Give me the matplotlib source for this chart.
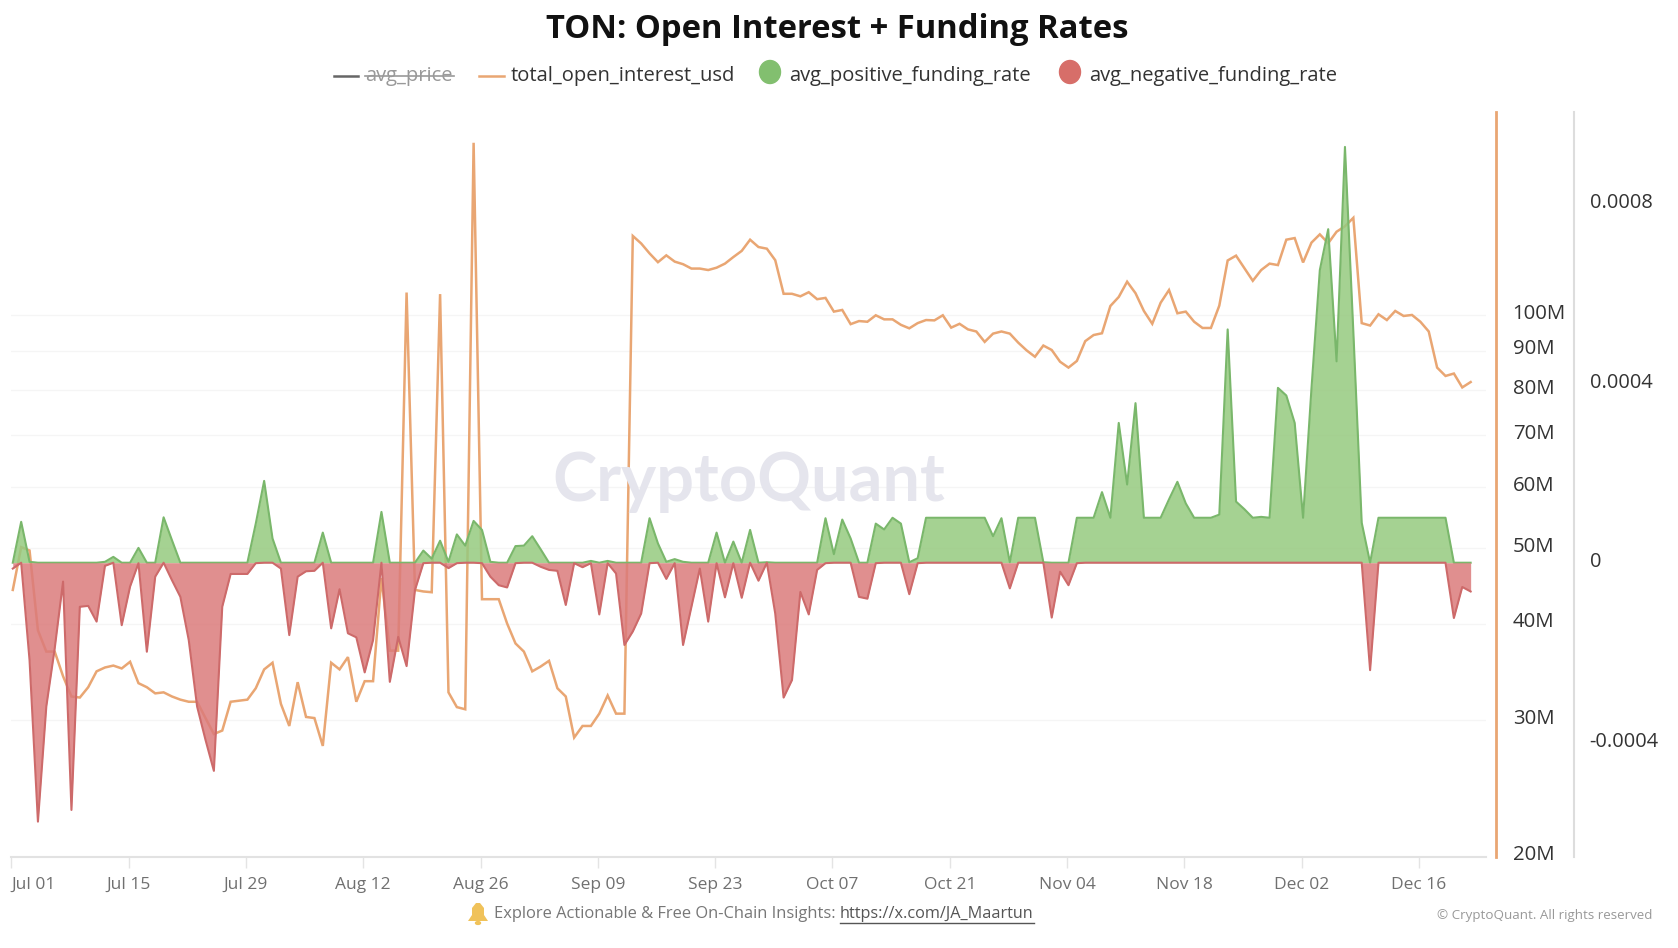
import matplotlib

matplotlib.use("Agg")
import matplotlib.pyplot as plt
import pandas as pd
from matplotlib.lines import Line2D
from matplotlib.patches import Circle, Ellipse, Polygon
from matplotlib.transforms import ScaledTranslation

WIDTH, HEIGHT = 1678, 948

plt.rcParams["font.family"] = ["Open Sans", "DejaVu Sans"]

# daily values, Jul 01 to Dec 22
open_interest_m = [
    44.2, 50.2, 49.7, 39.2, 36.8, 36.8, 34.2, 32.2, 32.1, 33.1,
    34.7, 35.1, 35.3, 35.0, 35.7, 33.5, 33.1, 32.5, 32.6, 32.2,
    31.9, 31.7, 31.7, 30.2, 28.8, 29.1, 31.7, 31.8, 31.9, 33.0,
    34.9, 35.6, 31.5, 29.5, 33.6, 30.3, 30.2, 27.8, 35.6, 34.9,
    36.2, 31.7, 33.7, 33.7, 45.8, 36.9, 36.9, 107, 44.2, 44.0,
    43.9, 106.5, 32.6, 31.2, 31.0, 167, 43.0, 43.0, 43.0, 40.0,
    37.7, 36.8, 34.7, 35.2, 35.8, 33.0, 32.2, 28.5, 29.5, 29.5,
    30.6, 32.3, 30.6, 30.6, 126.6, 123.8, 120.2, 117.1, 119.5, 117.3,
    116.4, 114.9, 114.9, 114.4, 115.2, 116.6, 118.9, 121.1, 125.2, 122.5,
    121.9, 117.8, 106.6, 106.6, 105.8, 107.1, 104.9, 105.3, 101.1, 101.6,
    97.4, 98.3, 98.1, 100, 98.8, 98.8, 97.2, 96.2, 97.7, 98.6,
    98.5, 100, 96.4, 97.5, 95.9, 95.3, 92.4, 94.7, 95.3, 94.7,
    92.2, 90.1, 88.4, 91.4, 90.2, 87.1, 85.6, 87.3, 92.6, 94.3,
    94.8, 102.8, 105.6, 110.5, 106.8, 101.3, 97.5, 103.8, 107.8, 100.6,
    101.1, 98.1, 96.3, 96.3, 102.9, 117.7, 119.4, 115, 110.8, 114.4,
    116.6, 116.1, 125.2, 125.8, 117, 124.1, 127.2, 123.9, 128.2, 130.3,
    133.6, 97.7, 97, 100.3, 98.6, 101.3, 99.8, 100.1, 98.1, 95.3,
    85.6, 83.5, 84.1, 80.7, 82,
]

# funding rates in millionths
positive_rate_e6 = [
    0, 91, 2, 0, 0, 0, 0, 0, 0, 0,
    0, 2, 13, 0, 0, 33, 0, 0, 101, 50,
    0, 0, 0, 0, 0, 0, 0, 0, 0, 87,
    182, 54, 0, 0, 0, 0, 0, 67, 0, 0,
    0, 0, 0, 0, 113, 0, 0, 0, 0, 27,
    9, 49, 2, 63, 38, 93, 73, 2, 0, 0,
    37, 38, 59, 30, 0, 0, 0, 0, 0, 4,
    0, 4, 0, 0, 0, 0, 99, 43, 2, 8,
    2, 0, 0, 0, 67, 0, 47, 0, 73, 0,
    1, 0, 0, 0, 0, 0, 0, 99, 19, 96,
    54, 0, 0, 87, 74, 100, 87, 1, 10, 100,
    100, 100, 100, 100, 100, 100, 100, 59, 99, 1,
    100, 100, 100, 1, 0, 0, 0, 100, 100, 100,
    157, 100, 311, 174, 355, 100, 100, 100, 141, 180,
    132, 100, 100, 100, 107, 519, 136, 119, 100, 102,
    100, 389, 372, 311, 100, 387, 651, 742, 448, 925,
    514, 89, 0, 100, 100, 100, 100, 100, 100, 100,
    100, 100, 0, 0, 0,
]

negative_rate_e6 = [
    -13, 0, -217, -576, -320, -191, -42, -550, -98, -96,
    -131, -7, 0, -139, -53, -1, -198, -31, 0, -39,
    -76, -172, -320, -394, -463, -98, -25, -25, -25, -1,
    0, 0, -13, -161, -31, -19, -18, 0, -146, -59,
    -157, -166, -244, -172, 0, -265, -165, -230, -61, -1,
    0, 0, -12, -1, 0, 0, -1, -31, -50, -55,
    -1, 0, 0, -9, -16, -18, -94, -1, -10, -1,
    -115, -1, -24, -183, -153, -113, -1, 0, -36, -1,
    -183, -98, -13, -131, -1, -77, -1, -78, 0, -40,
    0, -113, -300, -261, -65, -115, -16, -1, 0, 0,
    0, -76, -80, -1, 0, 0, 0, -70, -1, 0,
    0, 0, 0, 0, 0, 0, 0, 0, 0, -57,
    0, 0, 0, 0, -122, -20, -50, -1, 0, 0,
    0, 0, 0, 0, 0, 0, 0, 0, 0, 0,
    0, 0, 0, 0, 0, 0, 0, 0, 0, 0,
    0, 0, 0, 0, 0, 0, 0, 0, 0, 0,
    0, 0, -239, 0, 0, 0, 0, 0, 0, 0,
    0, 0, -123, -54, -64,
]

oi_ticks_m = [20, 30, 40, 50, 60, 70, 80, 90, 100]
rate_ticks = [-0.0004, 0, 0.0004, 0.0008]
rate_tick_labels = ["-0.0004", "0", "0.0004", "0.0008"]

ORANGE = "#e9a673"
GREEN_LINE = "#7ab76b"
GREEN_FILL = "#96ca7f"
RED_LINE = "#cd6a6a"
RED_FILL = "#db7b7b"
TEXT = "#333333"

day_start = pd.date_range("2024-07-01", periods=len(open_interest_m))
# points sit a little right of the day ticks in the reference
dates = day_start + pd.Timedelta(hours=4)
tick_dates = day_start[::14]
open_interest = [v * 1e6 for v in open_interest_m]
positive_rate = [v * 1e-6 for v in positive_rate_e6]
negative_rate = [v * 1e-6 for v in negative_rate_e6]


def fx(px):
    return px / WIDTH


def fy(px):
    return 1 - px / HEIGHT


fig = plt.figure(figsize=(WIDTH / 100, HEIGHT / 100), dpi=100)
ax = fig.add_axes([fx(11.4), fy(856.7), fx(1486 - 11.4), (856.7 - 112) / HEIGHT])
ax_rate = ax.twinx()

# open interest on the log axis
ax.set_yscale("log")
ax.plot(dates, open_interest, color=ORANGE, lw=1.8, zorder=3, solid_joinstyle="miter")
ax.set_ylim(20e6, 183e6)
ax.set_xlim(day_start[0], day_start[0] + pd.Timedelta(days=176))
ax.yaxis.tick_right()
ax.set_yticks([v * 1e6 for v in oi_ticks_m], [f"{v}M" for v in oi_ticks_m])
ax.minorticks_off()
ax.tick_params(axis="y", length=0, pad=12, labelsize=14.7, labelcolor=TEXT)
ax.grid(axis="y", color="#f5f5f5", lw=1)
ax.set_axisbelow(True)

ax.set_xticks(tick_dates, [d.strftime("%b %d") for d in tick_dates])
ax.tick_params(axis="x", length=8, width=1, color="#e4e4e4", pad=6.5, labelsize=12.5, labelcolor="#707070")
ax.get_xticklabels()[0].set_ha("left")

for side in ["top", "left"]:
    ax.spines[side].set_visible(False)
ax.spines["bottom"].set_color("#e2e2e2")
ax.spines["bottom"].set_linewidth(1.5)
ax.spines["right"].set_position(("outward", 7.2))
ax.spines["right"].set_color(ORANGE)
ax.spines["right"].set_linewidth(2)
# set_position rebuilds the ticks, so nudge the labels after it
for label in ax.get_yticklabels():
    label.set_transform(label.get_transform() + ScaledTranslation(0, 2.7 / 72, fig.dpi_scale_trans))

# funding rates on the linear axis
ax_rate.fill_between(dates, 0, positive_rate, color=GREEN_FILL, alpha=0.85, lw=0, zorder=2)
ax_rate.plot(dates, positive_rate, color=GREEN_LINE, lw=1.5, zorder=3)
ax_rate.fill_between(dates, 0, negative_rate, color=RED_FILL, alpha=0.85, lw=0, zorder=4)
ax_rate.plot(dates, negative_rate, color=RED_LINE, lw=1.5, zorder=5)
ax_rate.set_ylim(-0.000654, 0.0010027)
ax_rate.set_yticks(rate_ticks, rate_tick_labels)
ax_rate.tick_params(axis="y", length=0, pad=12, labelsize=14.4, labelcolor=TEXT)
for side in ["top", "left", "bottom"]:
    ax_rate.spines[side].set_visible(False)
ax_rate.spines["right"].set_position(("outward", 63.4))
ax_rate.spines["right"].set_color("#dddddd")
ax_rate.spines["right"].set_linewidth(1.5)
for label in ax_rate.get_yticklabels():
    label.set_transform(label.get_transform() + ScaledTranslation(-0.7 / 72, 2 / 72, fig.dpi_scale_trans))

# watermark
fig.text(fx(749), fy(482), "CryptoQuant", fontsize=48, family="Lato", fontweight="bold", color="#e5e5ed",
         ha="center", va="center", zorder=0.5)

fig.text(fx(837), fy(30), "TON: Open Interest + Funding Rates", fontsize=23.6, fontweight="bold",
         color="#111111", ha="center", va="center")

# legend
legend_y = fy(76)
legend_size = 14.5
fig.add_artist(Line2D([fx(334), fx(358)], [legend_y, legend_y], color="#666666", lw=1.8))
fig.text(fx(365), legend_y, "avg_price", fontsize=legend_size, color="#999999", va="center")
fig.add_artist(Line2D([fx(365), fx(454)], [legend_y, legend_y], color="#999999", lw=1.2))
fig.add_artist(Line2D([fx(479), fx(504)], [legend_y, legend_y], color=ORANGE, lw=1.8))
fig.text(fx(511), legend_y, "total_open_interest_usd", fontsize=legend_size, color=TEXT, va="center")
fig.add_artist(Ellipse((fx(770), fy(72)), 21 / WIDTH, 23 / HEIGHT, color="#82bf6f"))
fig.text(fx(789), legend_y, "avg_positive_funding_rate", fontsize=legend_size, color=TEXT, va="center")
fig.add_artist(Ellipse((fx(1070), fy(72)), 21 / WIDTH, 23 / HEIGHT, color="#d76e69"))
fig.text(fx(1089), legend_y, "avg_negative_funding_rate", fontsize=legend_size, color=TEXT, va="center")

# footer
footer_y = fy(914)
bell = [(468, 921), (472, 915), (472, 908), (476, 903), (480, 903), (484, 908), (484, 915), (488, 921)]
fig.add_artist(Polygon([(fx(x), fy(y)) for x, y in bell], closed=True, color="#f0c25a", lw=0))
fig.add_artist(Circle((fx(478), fy(923)), 2.5 / WIDTH, color="#f0c25a"))
fig.text(fx(494), footer_y, "Explore Actionable & Free On-Chain Insights:", fontsize=11.9,
         color="#777777", va="center")
fig.text(fx(840), footer_y, "https://x.com/JA_Maartun", fontsize=11.7, color="#555555", va="center")
fig.add_artist(Line2D([fx(840), fx(1034)], [fy(923), fy(923)], color="#555555", lw=1))
fig.text(fx(1437), fy(915), "© CryptoQuant. All rights reserved", fontsize=9.6, color="#999999", va="center")

fig.savefig("out.png", dpi=100, facecolor="white")
plt.close(fig)
